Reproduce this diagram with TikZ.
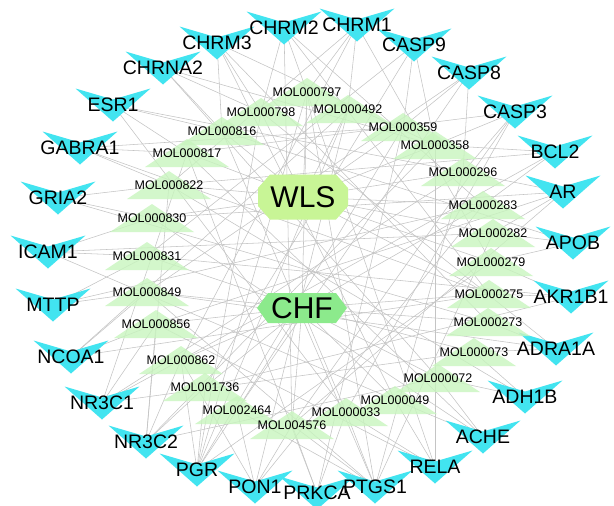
\documentclass[tikz,border=0pt]{standalone}
\usepackage{fontspec}
\setmainfont{Liberation Sans}
\definecolor{genecol}{RGB}{66,228,240}
\definecolor{molcol}{RGB}{200,245,190}
\definecolor{wlscol}{RGB}{200,245,150}
\definecolor{chfcol}{RGB}{140,234,140}
\definecolor{edgecol}{RGB}{196,196,196}
\pgfdeclarelayer{edgelayer}
\pgfdeclarelayer{shapelayer}
\pgfsetlayers{edgelayer,shapelayer,main}
\tikzset{
  genetext/.style={inner sep=0pt, font=\fontsize{19.5}{20}\selectfont},
  moltext/.style={inner sep=0pt, font=\fontsize{12.5}{13}\selectfont},
  herbtext/.style={inner sep=0pt, font=\fontsize{30}{30}\selectfont},
  edgeline/.style={draw=edgecol, line width=0.55pt},
  genefill/.style={fill=genecol},
  molfill/.style={fill=molcol, fill opacity=0.8},
}
\newcommand{\genenode}[3]{%
  \begin{pgfonlayer}{shapelayer}
  \fill[genefill] (#2-37.5,#3-16.5) -- (#2,#3-5.5) -- (#2+37.5,#3-16.5) -- (#2,#3+16.5) -- cycle;
  \end{pgfonlayer}
  \node[genetext] (#1) at (#2,#3) {#1};}
\newcommand{\molnode}[3]{%
  \begin{pgfonlayer}{shapelayer}
  \fill[molfill] (#2,#3-14) -- (#2+42,#3+14) -- (#2-42,#3+14) -- cycle;
  \end{pgfonlayer}
  \node[moltext] (#1) at (#2,#3) {#1};}
\begin{document}
\begin{tikzpicture}[x=1pt,y=-1pt]
\useasboundingbox (0,0) rectangle (614,506);
\begin{pgfonlayer}{edgelayer}
\fill[white] (0,0) rectangle (614,506);
\end{pgfonlayer}
% herbs
\begin{pgfonlayer}{shapelayer}
\fill[wlscol] (258,188) -- (270,174.5) -- (336,174.5) -- (348,188) -- (348,206) -- (336,219.5) -- (270,219.5) -- (258,206) -- cycle;
\fill[chfcol] (257,308) -- (268,293) -- (336,293) -- (347,308) -- (336,323) -- (268,323) -- cycle;
\end{pgfonlayer}
\node[herbtext] (WLS) at (303,197) {WLS};
\node[herbtext] (CHF) at (302,308) {CHF};
% genes
\genenode{CHRM3}{217}{43}
\genenode{CHRNA2}{163}{68}
\genenode{ESR1}{113}{105}
\genenode{GABRA1}{80}{148}
\genenode{GRIA2}{58}{198}
\genenode{ICAM1}{48}{252}
\genenode{MTTP}{53}{305}
\genenode{NCOA1}{71}{357}
\genenode{NR3C1}{102}{403}
\genenode{NR3C2}{146}{442}
\genenode{PGR}{197}{470}
\genenode{PON1}{255}{487}
\genenode{PTGS1}{375}{487}
\genenode{PRKCA}{317}{493}
\genenode{RELA}{435}{467}
\genenode{ACHE}{483}{437}
\genenode{ADH1B}{525}{397}
\genenode{ADRA1A}{556}{349}
\genenode{AKR1B1}{571}{297}
\genenode{APOB}{573}{243}
\genenode{AR}{563}{192}
\genenode{BCL2}{555}{152}
\genenode{CASP3}{515}{112}
\genenode{CASP8}{469}{73}
\genenode{CASP9}{414}{45}
\genenode{CHRM2}{284}{28}
\genenode{CHRM1}{357}{25}
% compounds
\molnode{MOL000797}{307}{92}
\molnode{MOL000798}{261}{112}
\molnode{MOL000492}{348}{109}
\molnode{MOL000359}{403}{127}
\molnode{MOL000358}{435}{145}
\molnode{MOL000296}{463}{172}
\molnode{MOL000283}{483}{205}
\molnode{MOL000282}{493}{233}
\molnode{MOL000279}{491}{262}
\molnode{MOL000275}{489}{294}
\molnode{MOL000273}{488}{322}
\molnode{MOL000073}{474}{352}
\molnode{MOL000072}{438}{378}
\molnode{MOL000049}{395}{400}
\molnode{MOL000033}{346}{412}
\molnode{MOL004576}{292}{425}
\molnode{MOL002464}{237}{410}
\molnode{MOL001736}{205}{387}
\molnode{MOL000862}{181}{360}
\molnode{MOL000856}{156}{324}
\molnode{MOL000849}{147}{292}
\molnode{MOL000831}{147}{256}
\molnode{MOL000830}{152}{218}
\molnode{MOL000822}{169}{185}
\molnode{MOL000817}{187}{153}
\molnode{MOL000816}{222}{131}
% edges
\begin{pgfonlayer}{edgelayer}
\foreach \m in {MOL000797,MOL000798,MOL000492,MOL000816,MOL000817,MOL000822,MOL000830,MOL000359,MOL000358,MOL000296,MOL000283,MOL000282,MOL000279,MOL000275}
  \draw[edgeline] (WLS.center) -- (\m.center);
\foreach \m in {MOL000797,MOL000831,MOL000849,MOL000856,MOL000862,MOL001736,MOL002464,MOL004576,MOL000033,MOL000049,MOL000072,MOL000073,MOL000273,MOL000275,MOL000283}
  \draw[edgeline] (CHF.center) -- (\m.center);
\foreach \g/\ms in {
  CHRM3/{MOL000798,MOL000816,MOL000358,MOL000273,MOL000049},
  CHRM2/{MOL000797,MOL000798,MOL000283,MOL000275,MOL004576},
  CHRM1/{MOL000492,MOL000797,MOL000822,MOL000279,MOL000862},
  CASP9/{MOL000359,MOL000358,MOL000831,MOL001736},
  CASP8/{MOL000359,MOL000296,MOL000849,MOL002464},
  CASP3/{MOL000358,MOL000296,MOL000817,MOL000033,MOL004576},
  BCL2/{MOL000358,MOL000283,MOL000822,MOL000862},
  AR/{MOL000296,MOL000282,MOL000830,MOL000856,MOL004576},
  APOB/{MOL000282,MOL000279,MOL000816},
  AKR1B1/{MOL000275,MOL000279,MOL000831,MOL001736},
  ADRA1A/{MOL000273,MOL000073,MOL000798,MOL000849},
  ADH1B/{MOL000072,MOL000073,MOL000822},
  ACHE/{MOL000049,MOL000072,MOL000817,MOL000830},
  RELA/{MOL000049,MOL000033,MOL000797,MOL000358,MOL000856},
  PTGS1/{MOL000033,MOL004576,MOL002464,MOL000797,MOL000816,MOL000296,MOL000282,MOL000849},
  PRKCA/{MOL004576,MOL000033,MOL000817,MOL000359},
  PON1/{MOL004576,MOL002464,MOL000862,MOL000492,MOL000283},
  PGR/{MOL002464,MOL001736,MOL000862,MOL000797,MOL000798,MOL000492,MOL000359,MOL000279},
  NR3C2/{MOL001736,MOL000862,MOL000856,MOL000822,MOL000358,MOL000072},
  NR3C1/{MOL000862,MOL000856,MOL000817,MOL000296,MOL000073},
  NCOA1/{MOL000856,MOL000849,MOL000492,MOL000275},
  MTTP/{MOL000849,MOL000831,MOL000283},
  ICAM1/{MOL000831,MOL000830,MOL000282,MOL000049},
  GRIA2/{MOL000830,MOL000822,MOL000273},
  GABRA1/{MOL000822,MOL000817,MOL000359,MOL000275},
  ESR1/{MOL000817,MOL000816,MOL000296,MOL000033},
  CHRNA2/{MOL000816,MOL000798,MOL000358,MOL000072}}
  {\foreach \m in \ms {\draw[edgeline] (\g.center) -- (\m.center);}}
\end{pgfonlayer}
\end{tikzpicture}
\end{document}
